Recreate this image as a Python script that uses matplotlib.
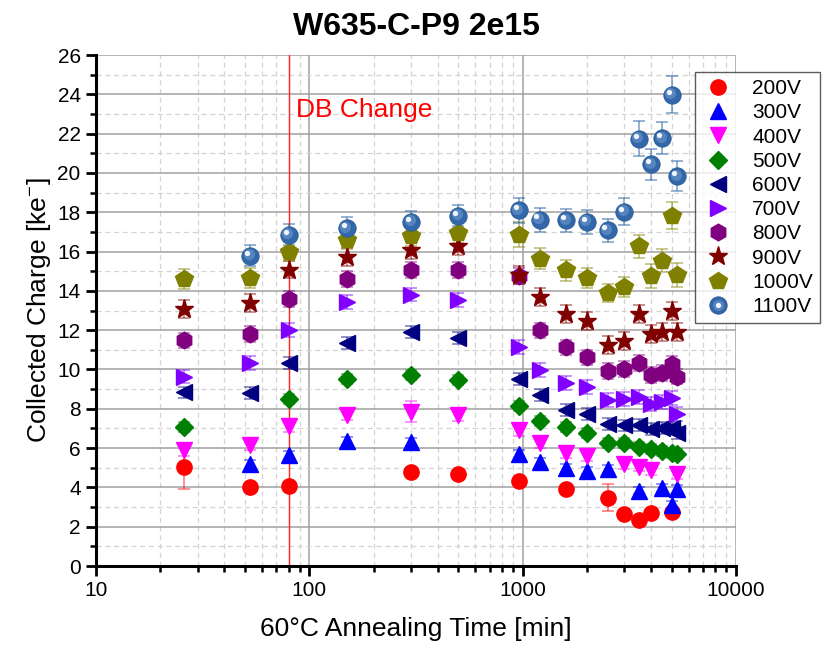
import numpy as np
import matplotlib
matplotlib.use("Agg")
import matplotlib.pyplot as plt
from matplotlib.ticker import MultipleLocator, LogLocator, NullFormatter, FixedLocator, FixedFormatter
from matplotlib.legend_handler import HandlerTuple
from matplotlib.transforms import offset_copy

plt.rcParams['font.family'] = ['Liberation Sans', 'DejaVu Sans']
plt.rcParams['mathtext.fontset'] = 'custom'
plt.rcParams['mathtext.rm'] = 'Liberation Sans'
plt.rcParams['mathtext.it'] = 'Liberation Sans'

# annealing times [min] and collected charge [ke-] per bias voltage
t_200 = [26, 53, 80, 300, 500, 960, 1600, 2500, 3000, 3500, 4000, 5000]
q_200 = [5.06, 4.04, 4.09, 4.79, 4.67, 4.33, 3.92, 3.48, 2.63, 2.34, 2.68, 2.75]
e_200 = [1.14, 0.12, 0.12, 0.12, 0.12, 0.15, 0.15, 0.69, 0.12, 0.12, 0.12, 0.15]

t_300 = [53, 80, 150, 300, 960, 1200, 1600, 2000, 2500, 3500, 4500, 5000, 5300]
q_300 = [5.20, 5.65, 6.37, 6.32, 5.69, 5.28, 4.98, 4.86, 4.94, 3.84, 3.96, 3.11, 3.91]
e_300 = 0.2

t_400 = [26, 53, 80, 150, 300, 500, 960, 1200, 1600, 2000, 3000, 3500, 4000, 5300]
q_400 = [5.91, 6.16, 7.10, 7.69, 7.86, 7.69, 6.90, 6.25, 5.74, 5.60, 5.18, 5.06, 4.89, 4.69]
e_400 = [0.3, 0.25, 0.3, 0.25, 0.53, 0.3, 0.3, 0.25, 0.25, 0.25, 0.25, 0.25, 0.25, 0.25]

t_500 = [26, 80, 150, 300, 500, 960, 1200, 1600, 2000, 2500, 3000, 3500, 4000, 4500, 5000, 5300]
q_500 = [7.07, 8.49, 9.53, 9.73, 9.48, 8.15, 7.39, 7.07, 6.76, 6.25, 6.28, 6.08, 5.94, 5.87, 5.77, 5.69]
e_500 = 0.25

t_600 = [26, 53, 80, 150, 300, 500, 960, 1200, 1600, 2000, 2500, 3000, 3500, 4000, 4500, 5000, 5300]
q_600 = [8.83, 8.80, 10.33, 11.34, 11.91, 11.60, 9.51, 8.71, 7.95, 7.74, 7.22, 7.15, 7.18, 6.98, 7.01, 7.01, 6.76]
e_600 = 0.3

t_700 = [26, 53, 80, 150, 300, 500, 960, 1200, 1600, 2000, 2500, 3000, 3500, 4000, 4500, 5000, 5300]
q_700 = [9.64, 10.33, 12.02, 13.43, 13.81, 13.55, 11.14, 9.98, 9.31, 9.10, 8.46, 8.49, 8.59, 8.24, 8.35, 8.56, 7.73]
e_700 = 0.35

t_800 = [26, 53, 80, 150, 300, 500, 960, 1200, 1600, 2000, 2500, 3000, 3500, 4000, 4500, 5000, 5300]
q_800 = [11.48, 11.82, 13.59, 14.62, 15.08, 15.08, 14.74, 11.99, 11.12, 10.61, 9.93, 10.02, 10.32, 9.73, 9.82, 10.27, 9.64]
e_800 = 0.4

t_900 = [26, 53, 80, 150, 300, 500, 960, 1200, 1600, 2000, 2500, 3000, 3500, 4000, 4500, 5000, 5300]
q_900 = [13.08, 13.38, 15.08, 15.73, 16.06, 16.27, 14.81, 13.69, 12.84, 12.48, 11.26, 11.46, 12.84, 11.80, 11.92, 12.96, 11.89]
e_900 = 0.45

t_1000 = [26, 53, 80, 150, 300, 500, 960, 1200, 1600, 2000, 2500, 3000, 3500, 4000, 4500, 5000, 5300]
q_1000 = [14.60, 14.64, 16.00, 16.61, 16.78, 16.95, 16.86, 15.64, 15.04, 14.65, 13.89, 14.20, 16.27, 14.77, 15.54, 17.83, 14.82]
e_1000 = [0.49, 0.5, 0.5, 0.5, 0.5, 0.5, 0.64, 0.53, 0.54, 0.52, 0.48, 0.53, 0.58, 0.62, 0.59, 0.7, 0.6]

t_1100 = [53, 80, 150, 300, 500, 960, 1200, 1600, 2000, 2500, 3000, 3500, 4000, 4500, 5000, 5300]
q_1100 = [15.79, 16.86, 17.20, 17.51, 17.83, 18.10, 17.63, 17.59, 17.51, 17.08, 18.03, 21.74, 20.43, 21.77, 23.98, 19.85]
e_1100 = [0.53, 0.55, 0.55, 0.55, 0.55, 0.63, 0.61, 0.6, 0.62, 0.6, 0.68, 0.9, 0.78, 0.8, 0.93, 0.75]

db_change = 80

series = [
    ("200V", t_200, q_200, e_200, "#FF0000", "o", 11),
    ("300V", t_300, q_300, e_300, "#0000FF", "^", 11),
    ("400V", t_400, q_400, e_400, "#FF00FF", "v", 11),
    ("500V", t_500, q_500, e_500, "#008000", "D", 9.5),
    ("600V", t_600, q_600, e_600, "#000080", "<", 11),
    ("700V", t_700, q_700, e_700, "#8000FF", ">", 11),
    ("800V", t_800, q_800, e_800, "#800080", "h", 12),
    ("900V", t_900, q_900, e_900, "#800000", "*", 14),
    ("1000V", t_1000, q_1000, e_1000, "#808000", "p", 13),
]

fig = plt.figure(figsize=(8.33, 6.48), dpi=100)
ax = fig.add_axes([0.1152, 0.1265, 0.7683, 0.7886])

ax.axvline(db_change, color="#FF2020", lw=1.0, zorder=1)

handles = []
labels = []
for name, t, q, e, col, mk, ms in series:
    ax.errorbar(t, q, yerr=e, fmt="none", ecolor=col, alpha=0.55, elinewidth=1.1,
                capsize=4.5, capthick=1.1, zorder=2)
    h, = ax.plot(t, q, ls="none", marker=mk, ms=ms, color=col, mec=col, zorder=3)
    handles.append(h)
    labels.append(name)

# 1100V drawn as shaded balls: base, soft glow and a highlight shifted up-left
ball = "#3268AA"
glow = offset_copy(ax.transData, fig=fig, x=-1.0, y=1.0, units="points")
shine = offset_copy(ax.transData, fig=fig, x=-2.2, y=2.2, units="points")
ax.errorbar(t_1100, q_1100, yerr=e_1100, fmt="none", ecolor=ball, alpha=0.65, elinewidth=1.1,
            capsize=4.5, capthick=1.1, zorder=2)
b1, = ax.plot(t_1100, q_1100, ls="none", marker="o", ms=12.5, color=ball, mec="#2A5A96", mew=0.6, zorder=4)
b2, = ax.plot(t_1100, q_1100, ls="none", marker="o", ms=8, color="#6E97CC", mew=0, alpha=0.6,
              transform=glow, zorder=4)
b3, = ax.plot(t_1100, q_1100, ls="none", marker="o", ms=3.8, color="#F2F6FC", mew=0,
              transform=shine, zorder=4)
handles.append((b1, b2, b3))
labels.append("1100V")

ax.text(87, 23.2, "DB Change", color="red", fontsize=19, va="center", ha="left")

ax.set_xscale("log")
ax.set_xlim(10, 10000)
ax.set_ylim(0, 26)
ax.xaxis.set_major_locator(FixedLocator([10, 100, 1000, 10000]))
ax.xaxis.set_major_formatter(FixedFormatter(["10", "100", "1000", "10000"]))
ax.xaxis.set_minor_locator(LogLocator(base=10, subs=np.arange(2, 10)))
ax.xaxis.set_minor_formatter(NullFormatter())
ax.yaxis.set_major_locator(MultipleLocator(2))
ax.yaxis.set_minor_locator(MultipleLocator(1))

ax.grid(which="major", color="#A0A0A0", lw=1.1, ls="-", zorder=0)
ax.grid(which="minor", color="#D3D3D3", lw=0.9, ls=(0, (4, 3)), zorder=0)
ax.set_axisbelow(True)

for s in ["top", "right"]:
    ax.spines[s].set_visible(False)
for s in ["left", "bottom"]:
    ax.spines[s].set_linewidth(2.2)

ax.tick_params(which="major", direction="out", length=7, width=2, labelsize=15, pad=4)
ax.tick_params(which="minor", direction="out", length=4, width=1.8)

ax.set_xlabel("60°C Annealing Time [min]", fontsize=19, labelpad=12)
ax.set_ylabel(r"Collected Charge [ke$^{-}$]", fontsize=19, labelpad=3)
fig.text(0.5, 0.958, "W635-C-P9 2e15", fontsize=23, fontweight="bold", ha="center", va="center")

leg = fig.legend(handles, labels, loc="upper left", bbox_to_anchor=(0.834, 0.889),
                 fontsize=15, frameon=True, fancybox=False, edgecolor="#333333",
                 handler_map={tuple: HandlerTuple(ndivide=1, pad=0)},
                 handletextpad=0.9, borderpad=0.35, labelspacing=0.25, handlelength=1.5,
                 borderaxespad=0)
leg.get_frame().set_linewidth(1.0)

fig.savefig("out.png", dpi=100)
